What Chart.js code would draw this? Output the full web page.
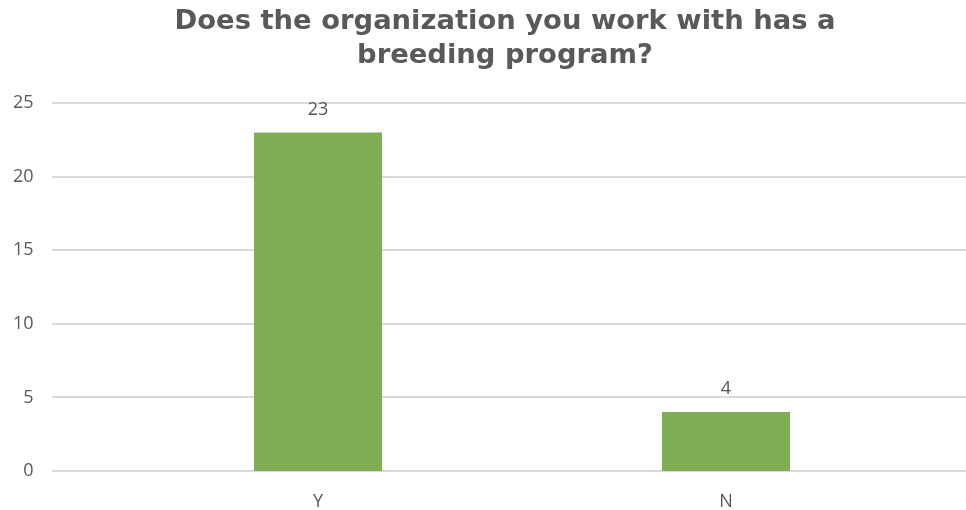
<!DOCTYPE html>
<html>
<head>
<meta charset="utf-8">
<script src="https://cdn.jsdelivr.net/npm/chart.js"></script>
<style>
  html, body { margin: 0; padding: 0; background: #fff; }
  #wrap { position: relative; width: 966px; height: 510px; }
</style>
</head>
<body>
<div id="wrap"><canvas id="chart"></canvas></div>
<script>
// answers and counts
const answers = ['Y', 'N'];
const counts = [23, 4];
const yTicks = [0, 5, 10, 15, 20, 25];

const grey = '#595959';
const gridColor = '#d9d9d9';

// gridlines run wider than the bar area, so draw them from the y scale
const wideGrid = {
  id: 'wideGrid',
  beforeDatasetsDraw(chart) {
    const { ctx, scales: { y } } = chart;
    ctx.save();
    ctx.strokeStyle = gridColor;
    ctx.lineWidth = 2;
    yTicks.forEach(v => {
      const py = Math.round(y.getPixelForValue(v));
      ctx.beginPath();
      ctx.moveTo(52, py);
      ctx.lineTo(chart.width, py);
      ctx.stroke();
    });
    ctx.restore();
  }
};

// value labels above bars
const valueLabels = {
  id: 'valueLabels',
  afterDatasetsDraw(chart) {
    const { ctx } = chart;
    const meta = chart.getDatasetMeta(0);
    ctx.save();
    ctx.font = '18px "Open Sans"';
    ctx.fillStyle = grey;
    ctx.textAlign = 'center';
    ctx.textBaseline = 'middle';
    meta.data.forEach((bar, i) => {
      ctx.fillText(counts[i], bar.x, bar.y - 23);
    });
    ctx.restore();
  }
};

new Chart(document.getElementById('chart').getContext('2d'), {
  type: 'bar',
  data: {
    labels: answers,
    datasets: [{
      data: counts,
      backgroundColor: '#7fae54',
      categoryPercentage: 0.314,
      barPercentage: 1
    }]
  },
  options: {
    responsive: true,
    maintainAspectRatio: false,
    animation: false,
    layout: { padding: { left: 80, right: 36, top: 0, bottom: 0 } },
    plugins: {
      legend: { display: false },
      tooltip: { enabled: false },
      title: {
        display: true,
        text: ['Does the organization you work with has a', 'breeding program?'],
        color: grey,
        font: { family: '"DejaVu Sans"', size: 27.4, weight: 'bold', lineHeight: 1.24 },
        padding: { top: 5, bottom: 30 }
      }
    },
    scales: {
      x: {
        afterFit(scale) { scale.height = 39; },
        grid: { display: false },
        border: { display: false },
        ticks: { color: grey, font: { family: '"Open Sans"', size: 18 }, padding: 12 }
      },
      y: {
        min: 0,
        max: 25,
        afterFit(scale) { scale.width = 34; },
        grid: { display: false },
        border: { display: false },
        ticks: {
          stepSize: 5,
          color: grey,
          font: { family: '"Open Sans"', size: 18 },
          mirror: true,
          crossAlign: 'far',
          padding: -101
        }
      }
    }
  },
  plugins: [wideGrid, valueLabels]
});
</script>
</body>
</html>
